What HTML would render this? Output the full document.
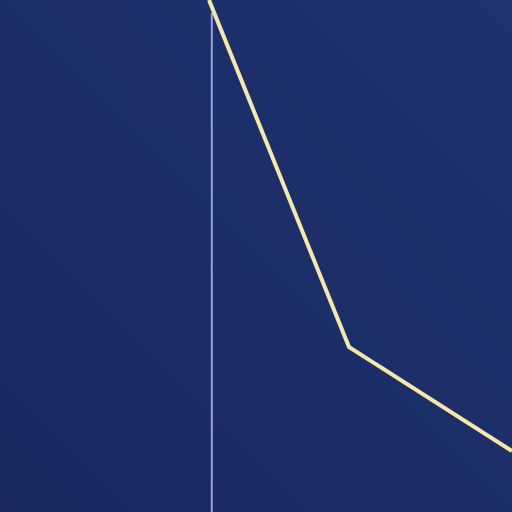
<!DOCTYPE html>
<html><head><meta charset="utf-8"><style>
html,body{margin:0;padding:0;width:512px;height:512px;overflow:hidden}
svg{display:block}
</style></head><body>
<svg id="chart" width="512" height="512" viewBox="0 0 512 512">
<defs><linearGradient id="bg" x1="0" y1="1" x2="1" y2="0">
<stop offset="0" stop-color="#1a285f"/><stop offset="1" stop-color="#1f3370"/></linearGradient></defs>
<rect x="0" y="0" width="512" height="512" fill="url(#bg)"/>
<g id="marks"></g>
</svg>
<script>
const xValues = [0, 1, 2.164];
const yValues = [100, 30.6, 9.8];
const refLineX = [0.02];
function xScale(v){ return 209 + 140 * v; }
function yScale(v){ return (1 - v / 100) * 500; }
const ns = 'http://www.w3.org/2000/svg';
const g = document.getElementById('marks');
refLineX.forEach(function(v){
  const l = document.createElementNS(ns, 'line');
  l.setAttribute('x1', xScale(v)); l.setAttribute('x2', xScale(v));
  l.setAttribute('y1', 13); l.setAttribute('y2', 512);
  l.setAttribute('stroke', '#9aa2d6'); l.setAttribute('stroke-width', 2);
  
  
  g.appendChild(l);
});
const pts = xValues.map(function(x, i){ return xScale(x) + ',' + yScale(yValues[i]); }).join(' ');
const p = document.createElementNS(ns, 'polyline');
p.setAttribute('points', pts);
p.setAttribute('fill', 'none');
p.setAttribute('stroke', '#f3e9ad');
p.setAttribute('stroke-width', 4);


g.appendChild(p);
</script>
</body></html>
